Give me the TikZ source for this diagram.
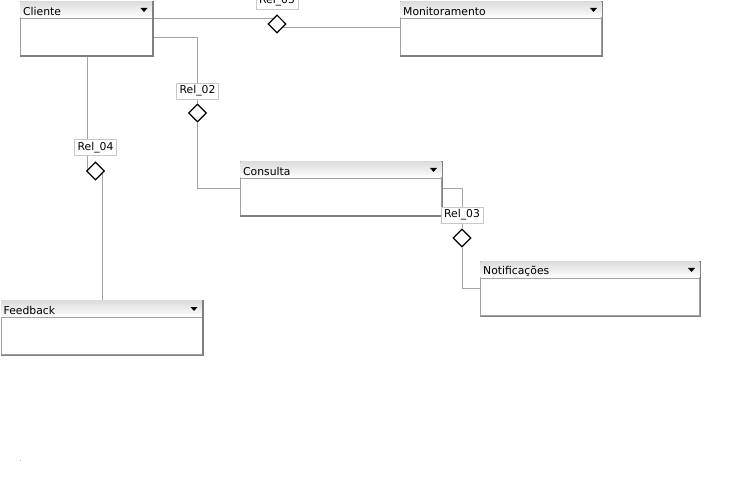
\documentclass[tikz,border=0pt]{standalone}
\usepackage{fontspec}
\setmainfont{DejaVu Sans}
\usetikzlibrary{calc,backgrounds,shapes.geometric}
\definecolor{boxgray}{HTML}{A0A0A0}
\definecolor{shadowgray}{HTML}{808080}
\definecolor{conngray}{HTML}{A4A4A4}
\definecolor{labelgray}{HTML}{C8C8C8}
\definecolor{hdtop}{HTML}{DCDCDC}
\tikzset{
  ebox/.style={draw=boxgray, line width=1pt, fill=white, inner sep=0pt, minimum height=54pt},
  etitle/.style={inner sep=0pt, font=\fontsize{10.8}{12}\selectfont, text=black},
  hdline/.style={draw=boxgray, line width=1pt},
  boxshadow/.style={draw=shadowgray, line width=1.6pt},
  relbox/.style={draw=labelgray, line width=0.8pt, fill=white, inner xsep=3pt, inner ysep=1.5pt,
    minimum height=16pt, font=\fontsize{10.8}{12}\selectfont},
  reldiamond/.style={diamond, aspect=1, draw=black, line width=1.1pt, fill=white, inner sep=0pt, minimum size=18pt},
  conn/.style={draw=conngray, line width=1pt},
}
\newcommand\erentity[5]{%
  \node[ebox, minimum width=#4pt, anchor=north west] (#1) at (#2,#3) {};
  \fill[top color=hdtop, bottom color=white] ([shift={(0.5pt,-0.5pt)}]#1.north west) rectangle ([shift={(-0.5pt,-17pt)}]#1.north east);
  \draw[hdline] ([yshift=-17.5pt]#1.north west) -- ([yshift=-17.5pt]#1.north east);
  \draw[boxshadow] ([shift={(0.3pt,0pt)}]#1.north east) -- ([shift={(0.3pt,-0.3pt)}]#1.south east) -- ([shift={(0pt,-0.3pt)}]#1.south west);
  \node[etitle, anchor=west] at ([shift={(3pt,-10pt)}]#1.north west) {#5};
  \fill[black] ([shift={(-12pt,-7pt)}]#1.north east) -- ++(7pt,0pt) -- ++(-3.5pt,-4pt) -- cycle;
}
\begin{document}
\begin{tikzpicture}[x=1pt,y=-1pt]
\useasboundingbox (0,0) rectangle (742,481);
% entities
\erentity{cli}{20}{1}{131.5}{Cliente}
\erentity{mon}{400}{1}{201}{Monitoramento}
\erentity{con}{240}{161}{201}{Consulta}
\erentity{notif}{480}{261}{219}{Notificações}
\erentity{fb}{0.5}{300}{201}{Feedback}
% relationships
\node[relbox] (l5) at (277,1) {Rel\_05};
\node[reldiamond] (d5) at (277,24) {};
\node[relbox] (l2) at (197.5,91) {Rel\_02};
\node[reldiamond] (d2) at (197.5,113) {};
\node[relbox] (l4) at (95.5,147.5) {Rel\_04};
\node[reldiamond] (d4) at (95.5,171) {};
\node[relbox] (l3) at (462,215) {Rel\_03};
\node[reldiamond] (d3) at (462,238) {};
% tiny dot
\fill[gray!60] (20,459.5) rectangle (21,460.5);
\begin{pgfonlayer}{background}
\fill[white] (0,0) rectangle (742,481);
% Rel_05
\coordinate (q5) at ($(d5.center)+(-4,-5)$);
\coordinate (r5) at ($(d5.center)+(5,4)$);
\draw[conn] (q5) -- (q5 -| cli.east);
\draw[conn] (r5) -- (r5 -| mon.west);
% Rel_02
\coordinate (c2) at ($(cli.north east)+(0,37)$);
\draw[conn] (l2.north) |- (c2);
\draw[conn] (l2.south) -- (d2.north);
\draw[conn] (d2.south) |- (con.west);
% Rel_04
\coordinate (a4) at ($(l4.north)+(-8.5,0)$);
\coordinate (e4) at ($(l4.south)+(-8.5,0)$);
\coordinate (f4) at ($(d4.center)+(-8,-1)$);
\coordinate (b4) at ($(d4.center)+(7,2)$);
\draw[conn] (a4) -- (a4 |- cli.south);
\draw[conn] (e4) -- (e4 |- f4);
\draw[conn] (b4) -- (b4 |- fb.north);
% Rel_03
\draw[conn] (l3.north) |- (con.east);
\draw[conn] (l3.south) -- (d3.north);
\draw[conn] (d3.south) |- (notif.west);
\end{pgfonlayer}
\end{tikzpicture}
\end{document}
